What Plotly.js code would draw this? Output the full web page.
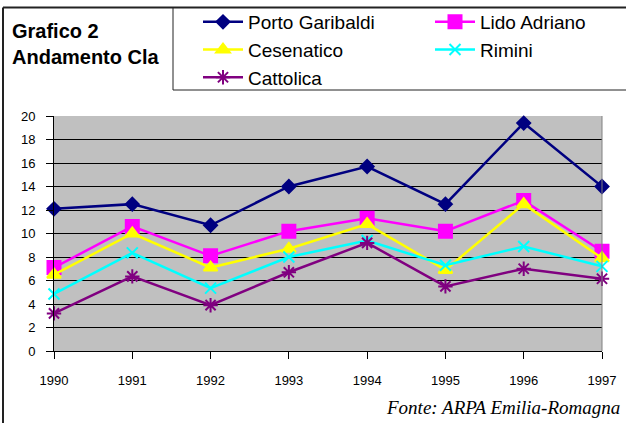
<!DOCTYPE html>
<html><head><meta charset="utf-8">
<script src="https://cdn.plot.ly/plotly-3.0.1.min.js"></script>
<style>html,body{margin:0;padding:0;background:#fff}</style>
</head><body><div id="chart" style="width:626px;height:423px"></div>
<script>
const years = [1990, 1991, 1992, 1993, 1994, 1995, 1996, 1997];
const yearLabels = ['1990', '1991', '1992', '1993', '1994', '1995', '1996', '1997'];
const portoGaribaldi = [12.1, 12.5, 10.7, 14.0, 15.7, 12.5, 19.4, 14.0];
const lidoAdriano = [7.1, 10.6, 8.1, 10.2, 11.3, 10.2, 12.8, 8.5];
const cesenatico = [6.5, 10.0, 7.1, 8.7, 10.8, 6.9, 12.5, 7.9];
const rimini = [4.85, 8.35, 5.35, 8.0, 9.4, 7.3, 8.9, 7.2];
const cattolica = [3.2, 6.35, 3.9, 6.7, 9.2, 5.5, 7.0, 6.15];
const seriesNames = ['Porto Garibaldi', 'Lido Adriano', 'Cesenatico', 'Rimini', 'Cattolica'];
const yTicks = [0, 2, 4, 6, 8, 10, 12, 14, 16, 18, 20];

const W = 626, H = 423;
const M = {l: 54, r: 24, t: 116, b: 72, autoexpand: false};
const pw = W - M.l - M.r, ph = H - M.t - M.b;
const px = x => (x - M.l) / pw;
const py = y => (H - M.b - y) / ph;

const styles = [
  {color: '#000080', symbol: 'diamond', size: 10, legend: 'legend'},
  {color: '#FF00FF', symbol: 'square', size: 13, legend: 'legend2'},
  {color: '#FFFF00', symbol: 'triangle-up', size: 12, legend: 'legend'},
  {color: '#00FFFF', symbol: 'x-thin-open', size: 11, legend: 'legend2'},
  {color: '#800080', symbol: 'asterisk-open', size: 12, legend: 'legend'}
];
const values = [portoGaribaldi, lidoAdriano, cesenatico, rimini, cattolica];

const traces = values.map((v, i) => ({
  type: 'scatter', mode: 'lines+markers', name: seriesNames[i],
  legend: styles[i].legend,
  x: years, y: v, cliponaxis: false,
  line: {color: styles[i].color, width: 2.5},
  marker: {symbol: styles[i].symbol, size: styles[i].size, color: styles[i].color,
           line: {color: styles[i].color, width: 2}}
}));

const legendBase = {
  orientation: 'v', yanchor: 'top', xanchor: 'left',
  xref: 'paper', yref: 'paper', itemwidth: 40,
  font: {size: 19, color: '#000', family: 'Arial, Liberation Sans, sans-serif'},
  bgcolor: 'rgba(0,0,0,0)', borderwidth: 0, tracegroupgap: 0, traceorder: 'normal'
};

const layout = {
  width: W, height: H,
  margin: M,
  paper_bgcolor: '#ffffff',
  plot_bgcolor: '#C0C0C0',
  font: {family: 'Arial, Liberation Sans, sans-serif', color: '#000'},
  title: {
    text: 'Grafico 2<br>Andamento Cla',
    font: {size: 20, color: '#000', weight: 'bold', family: 'Arial, Liberation Sans, sans-serif'},
    xref: 'container', yref: 'container', x: 12 / W, xanchor: 'left',
    y: 1 - 38 / H, yanchor: 'top'
  },
  showlegend: true,
  legend: Object.assign({}, legendBase, {x: px(198), y: py(3)}),
  legend2: Object.assign({}, legendBase, {x: px(430), y: py(3)}),
  xaxis: {
    range: [1990, 1997], tickvals: years, ticktext: yearLabels,
    showgrid: false, zeroline: false, showline: true, linecolor: '#000', linewidth: 1,
    ticks: 'outside', ticklen: 7, tickcolor: '#000', tickwidth: 1,
    tickfont: {size: 13, color: '#000'}, ticklabelstandoff: 10, fixedrange: true
  },
  yaxis: {
    range: [0, 20], tickvals: yTicks,
    showgrid: true, gridcolor: '#000', gridwidth: 1,
    zeroline: false, showline: true, linecolor: '#000', linewidth: 1,
    ticks: 'outside', ticklen: 7, tickcolor: '#000', tickwidth: 1,
    tickfont: {size: 13, color: '#000'}, ticklabelstandoff: 8, fixedrange: true
  },
  shapes: [
    {type: 'line', xref: 'paper', yref: 'paper', x0: 1, x1: 1, y0: 0, y1: 1,
     line: {color: '#808080', width: 1}},
    {type: 'line', xref: 'paper', yref: 'paper', x0: px(3), x1: px(3), y0: py(7.5), y1: py(423),
     line: {color: '#222', width: 2}},
    {type: 'line', xref: 'paper', yref: 'paper', x0: px(3), x1: px(626), y0: py(7.5), y1: py(7.5),
     line: {color: '#222', width: 2}},
    {type: 'line', xref: 'paper', yref: 'paper', x0: px(173), x1: px(173), y0: py(7.5), y1: py(90),
     line: {color: '#222', width: 1}},
    {type: 'line', xref: 'paper', yref: 'paper', x0: px(173), x1: px(626), y0: py(90), y1: py(90),
     line: {color: '#222', width: 1}}
  ],
  annotations: [
    {text: 'Fonte: ARPA Emilia-Romagna', xref: 'paper', yref: 'paper',
     x: px(622), y: py(407), xanchor: 'right', yanchor: 'middle', showarrow: false,
     font: {family: 'Times New Roman, Liberation Serif, serif', size: 19, style: 'italic', color: '#000'}}
  ]
};

Plotly.newPlot('chart', traces, layout, {displayModeBar: false, staticPlot: true});
</script>
</body></html>
